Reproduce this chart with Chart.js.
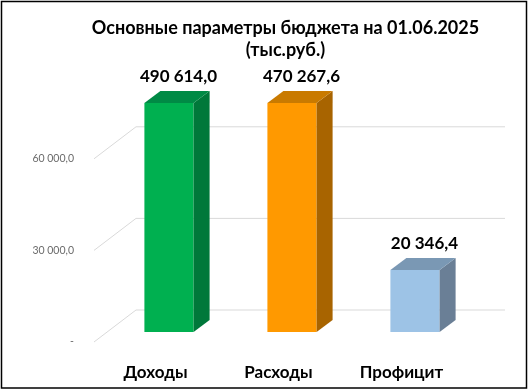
<!DOCTYPE html>
<html>
<head>
<meta charset="utf-8">
<script src="https://cdn.jsdelivr.net/npm/chart.js"></script>
<style>
  body { margin: 0; background: #fff; }
  #wrap { width: 528px; height: 390px; }
</style>
</head>
<body>
<div id="wrap"><canvas id="myChart" width="528" height="390"></canvas></div>
<script>
var categories = ["Доходы", "Расходы", "Профицит"]
var values = [490614.0, 470267.6, 20346.4]
var valueLabels = ["490 614,0", "470 267,6", "20 346,4"]
var frontColors = ["#00B050", "#FF9900", "#9DC3E6"]
var topColors = ["#008A45", "#C97A00", "#7A98B4"]
var sideColors = ["#00783A", "#A86400", "#6A7F96"]
var titleLines = ["Основные параметры бюджета на 01.06.2025", "(тыс.руб.)"]
var yTicks = [0, 30000, 60000]
var yMax = 75000

var FONT = "Lato, 'Noto Sans', 'Open Sans', sans-serif"

// depth of the floor/back wall and of the boxes
var wallDx = 42, wallDy = -32
var barDx = 13.5, barDy = -10
var boxDx = 16, boxDy = -12

function fmt(v){
    if (v === 0) return "-"
    var s = Math.round(v).toString().replace(/\B(?=(\d{3})+(?!\d))/g, " ")
    return s + ",0"
}

var gridPlugin = {
    id: "grid3d",
    beforeDatasetsDraw(chart){
        var ctx = chart.ctx
        var a = chart.chartArea
        var y = chart.scales.y
        ctx.save()
        ctx.strokeStyle = "#D9D9D9"
        ctx.lineWidth = 1
        yTicks.forEach(function(v){
            var py = y.getPixelForValue(v)
            ctx.beginPath()
            ctx.moveTo(a.left, py)
            ctx.lineTo(a.left + wallDx, py + wallDy)
            ctx.lineTo(a.right + wallDx, py + wallDy)
            ctx.stroke()
        })
        ctx.restore()

        // shift the front faces into the middle of the depth
        ctx.save()
        ctx.beginPath()
        ctx.rect(0, a.top + barDy, chart.width, chart.height)
        ctx.clip()
        ctx.translate(barDx, barDy)
    },
    afterDatasetsDraw(chart){
        var ctx = chart.ctx
        ctx.restore()
        var a = chart.chartArea
        var meta = chart.getDatasetMeta(0)
        ctx.save()
        meta.data.forEach(function(bar, i){
            var p = bar.getProps(["x", "y", "base", "width"], true)
            var left = p.x - p.width / 2 + barDx
            var right = p.x + p.width / 2 + barDx
            var top = Math.max(p.y, a.top) + barDy
            var bottom = p.base + barDy

            ctx.fillStyle = sideColors[i]
            ctx.beginPath()
            ctx.moveTo(right, top)
            ctx.lineTo(right + boxDx, top + boxDy)
            ctx.lineTo(right + boxDx, bottom + boxDy)
            ctx.lineTo(right, bottom)
            ctx.closePath()
            ctx.fill()

            ctx.fillStyle = topColors[i]
            ctx.beginPath()
            ctx.moveTo(left, top)
            ctx.lineTo(left + boxDx, top + boxDy)
            ctx.lineTo(right + boxDx, top + boxDy)
            ctx.lineTo(right, top)
            ctx.closePath()
            ctx.fill()

            ctx.fillStyle = "#000"
            ctx.font = "bold 17px " + FONT
            ctx.textAlign = "center"
            ctx.textBaseline = "middle"
            ctx.fillText(valueLabels[i], p.x + 23, top - 26)
        })
        ctx.restore()
    },
    afterDraw(chart){
        var ctx = chart.ctx
        ctx.save()
        ctx.fillStyle = "#000"
        ctx.font = "bold 18px " + FONT
        ctx.textAlign = "center"
        ctx.textBaseline = "middle"
        ctx.fillText(titleLines[0], 285.5, 28.5)
        ctx.fillText(titleLines[1], 285.5, 50.5)
        ctx.strokeStyle = "#000"
        ctx.lineWidth = 1.5
        ctx.strokeRect(1.5, 1.5, 525, 386.5)
        ctx.restore()
    }
}

var myChart = new Chart("myChart", {
    type: "bar",
    data: {
        labels: categories,
        datasets: [{
            data: values,
            backgroundColor: frontColors,
            borderWidth: 0,
            barPercentage: 0.4,
            categoryPercentage: 1
        }]
    },
    options: {
        responsive: false,
        animation: false,
        events: [],
        layout: { padding: { top: 113, right: 65, left: 0, bottom: 0 } },
        plugins: {
            legend: { display: false },
            title: { display: false },
            tooltip: { enabled: false }
        },
        scales: {
            x: {
                grid: { display: false },
                border: { display: false },
                ticks: {
                    color: "#000",
                    font: { family: FONT, size: 17, weight: "bold" },
                    padding: 12,
                    maxRotation: 0
                },
                afterFit: function(s){ s.height = 48 }
            },
            y: {
                min: 0,
                max: yMax,
                grid: { display: false, drawTicks: false },
                border: { display: false },
                afterBuildTicks: function(s){ s.ticks = yTicks.map(function(v){ return { value: v } }) },
                ticks: {
                    color: "#6B6B6B",
                    font: { family: FONT, size: 10.5 },
                    padding: 20,
                    callback: function(v){ return fmt(v) }
                },
                afterFit: function(s){ s.width = 94 }
            }
        }
    },
    plugins: [gridPlugin]
})
</script>
</body>
</html>
